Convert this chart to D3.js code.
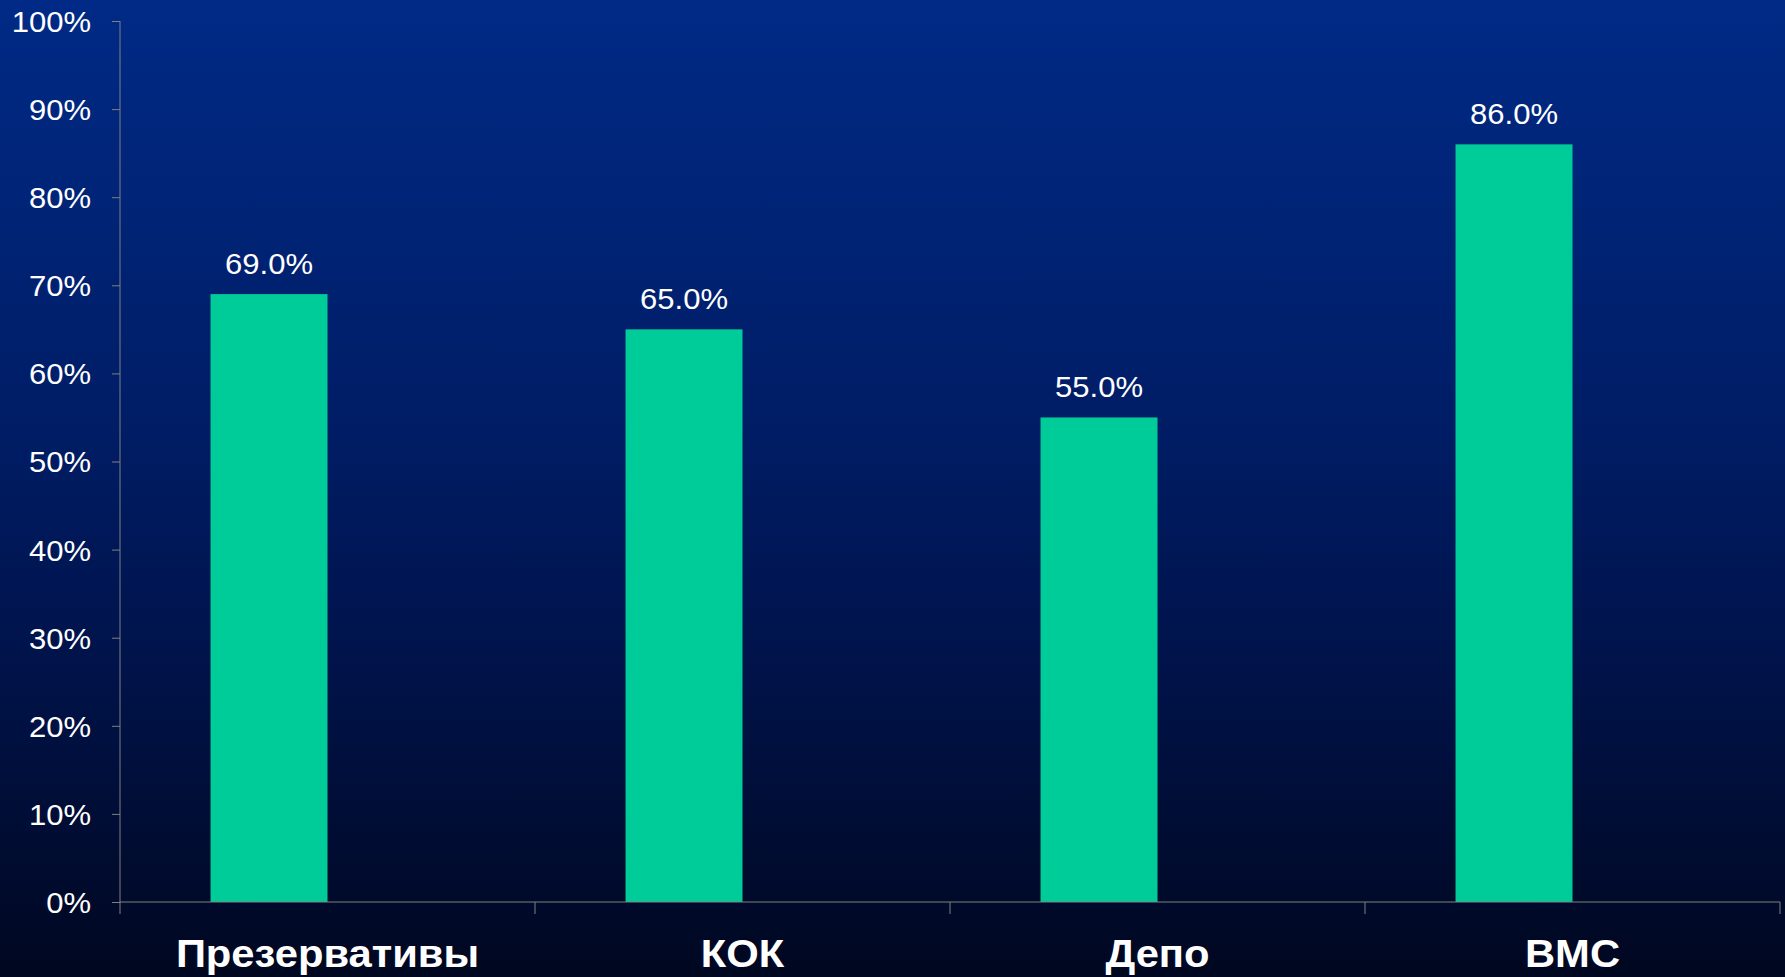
<!DOCTYPE html>
<html><head><meta charset="utf-8">
<script src="https://cdn.jsdelivr.net/npm/d3@7"></script>
<style>html,body{margin:0;padding:0;background:#000820;overflow:hidden}</style>
</head><body>
<script>
const categories = ["Презервативы", "КОК", "Депо", "ВМС"];
const values = [69.0, 65.0, 55.0, 86.0];
const yTicks = [0, 10, 20, 30, 40, 50, 60, 70, 80, 90, 100];

const W = 1785, H = 977;
const m = {left: 120, right: 5, top: 21, bottom: 75};
const svg = d3.select("body").append("svg").attr("width", W).attr("height", H);

const defs = svg.append("defs");
const g = defs.append("linearGradient").attr("id", "bg").attr("x1", 0).attr("y1", 0).attr("x2", 0).attr("y2", 1);
[[0, "#002a86"], [0.43, "#001d66"], [0.67, "#00134b"], [1, "#000720"]].forEach(([o, c]) =>
  g.append("stop").attr("offset", o).attr("stop-color", c));
svg.append("rect").attr("width", W).attr("height", H).attr("fill", "url(#bg)");

const x = d3.scaleBand().domain(categories).range([m.left, W - m.right]).padding(0);
// two series slots per category (second slot empty), Excel-like gap
const sub = d3.scaleBand().domain(["a", "b"]).range([0, x.bandwidth()]).paddingOuter(0.774).paddingInner(0);
const y = d3.scaleLinear().domain([0, 100]).range([H - m.bottom, m.top]);

// bars
svg.selectAll("rect.bar").data(values).enter().append("rect")
  .attr("class", "bar")
  .attr("x", (d, i) => x(categories[i]) + sub("a"))
  .attr("width", sub.bandwidth())
  .attr("y", d => y(d))
  .attr("height", d => y(0) - y(d))
  .attr("fill", "#00cc99");

// value labels
svg.selectAll("text.val").data(values).enter().append("text")
  .attr("class", "val")
  .attr("x", (d, i) => x(categories[i]) + sub("a") + sub.bandwidth() / 2)
  .attr("y", d => y(d) - 20)
  .attr("text-anchor", "middle")
  .attr("font-family", "Liberation Sans, Arial, sans-serif")
  .attr("font-size", 29)
  .attr("fill", "#ffffff")
  .text(d => d.toFixed(1) + "%");

// y axis
const yAxis = svg.append("g").attr("transform", `translate(${m.left},0)`)
  .call(d3.axisLeft(y).tickValues(yTicks).tickFormat(d => d + "%").tickSize(8).tickPadding(21));
yAxis.select(".domain").attr("stroke", "#808080").attr("d", `M0,${y(100)}V${y(0) + 12}`);
yAxis.selectAll(".tick line").attr("stroke", "#808080");
yAxis.selectAll(".tick text").attr("fill", "#ffffff")
  .attr("font-family", "Liberation Sans, Arial, sans-serif").attr("font-size", 29).attr("dy", "0.36em");

// x axis
const xAxis = svg.append("g").attr("transform", `translate(0,${y(0)})`)
  .call(d3.axisBottom(x).tickSize(0).tickPadding(0));
xAxis.select(".domain").attr("stroke", "#808080").attr("d", `M${m.left},0H${W - m.right}`);
xAxis.selectAll(".tick text").attr("fill", "#ffffff")
  .attr("font-family", "Liberation Sans, Arial, sans-serif").attr("font-weight", "bold")
  .attr("font-size", 39).attr("dy", 0).attr("y", 65);
// category boundary ticks
const bounds = categories.map(c => x(c)).concat([x(categories[categories.length - 1]) + x.bandwidth()]);
svg.selectAll("line.xt").data(bounds.slice(1)).enter().append("line")
  .attr("x1", d => d).attr("x2", d => d)
  .attr("y1", y(0)).attr("y2", y(0) + 12)
  .attr("stroke", "#808080");

// slightly wider glyphs, as in the reference
svg.selectAll("text").each(function() {
  const len = this.getComputedTextLength();
  d3.select(this).attr("textLength", len * 1.07).attr("lengthAdjust", "spacingAndGlyphs");
});
</script>
</body></html>
